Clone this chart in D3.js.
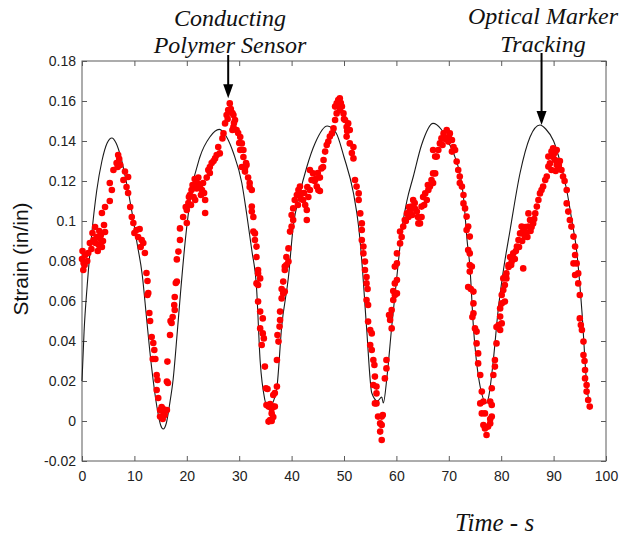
<!DOCTYPE html>
<html>
<head>
<meta charset="utf-8">
<script src="https://cdn.jsdelivr.net/npm/d3@7"></script>
<style>
  body { margin: 0; background: #fff; }
  svg { display: block; }
</style>
</head>
<body>
<svg id="chart" width="621" height="540"></svg>
<script>
// Axis ticks
const xTicks = [0, 10, 20, 30, 40, 50, 60, 70, 80, 90, 100];
const yTicks = [-0.02, 0, 0.02, 0.04, 0.06, 0.08, 0.1, 0.12, 0.14, 0.16, 0.18];
const yTickLabels = ["-0.02", "0", "0.02", "0.04", "0.06", "0.08", "0.1", "0.12", "0.14", "0.16", "0.18"];

// Optical marker tracking trace: [time (s), strain]
const opticalTrace = [
  [0, 0.02], [0.4, 0.045], [1.0, 0.068], [1.8, 0.092], [2.8, 0.115], [3.8, 0.13], [4.8, 0.139],
  [5.7, 0.1415], [6.5, 0.139], [7.5, 0.131], [8.5, 0.119], [9.5, 0.105], [10.5, 0.089],
  [11.5, 0.073], [12.3, 0.052], [12.9, 0.036], [13.6, 0.02], [14.3, 0.007], [15.0, -0.002],
  [15.5, -0.004], [16.1, -0.001], [16.7, 0.008], [17.4, 0.021], [18.2, 0.045], [18.8, 0.064],
  [19.7, 0.09], [20.9, 0.115], [22.5, 0.132], [24.4, 0.142], [26.2, 0.1458], [27.6, 0.142],
  [28.9, 0.134], [30.5, 0.119], [31.4, 0.104], [32.4, 0.0855], [33.3, 0.067], [34.0, 0.03],
  [34.9, 0.0105], [35.5, 0.006], [36.2, 0.008], [37.2, 0.017], [38.1, 0.047], [39.4, 0.072],
  [40.3, 0.097], [41.5, 0.113], [42.9, 0.127], [44.5, 0.139], [46.8, 0.1475], [48.5, 0.144],
  [50.0, 0.132], [51.8, 0.114], [52.8, 0.097], [53.4, 0.08], [54.3, 0.047], [55.3, 0.014],
  [56.4, 0.01], [57.2, 0.012], [57.5, 0.009], [58.2, 0.022], [59.1, 0.047], [60.4, 0.08],
  [61.0, 0.095], [62.0, 0.11], [63.2, 0.122], [64.8, 0.138], [67.0, 0.1488], [68.5, 0.146],
  [70.0, 0.139], [70.9, 0.134], [72.8, 0.112], [73.5, 0.09], [74.0, 0.078], [74.7, 0.047],
  [76.0, 0.017], [77.2, 0.009], [77.6, 0.012], [78.5, 0.0305], [79.4, 0.055], [80.4, 0.075],
  [81.7, 0.0955], [83.6, 0.124], [85.5, 0.142], [87.4, 0.148], [88.5, 0.146], [90.0, 0.14],
  [91.2, 0.13], [92.5, 0.1155], [93.5, 0.1], [94.4, 0.085], [95.4, 0.055], [96.3, 0.019],
  [96.6, 0.012]
];

// Conducting polymer sensor readings: [time (s), strain]
const sensorPoints = [
  // cycle 1
  [0, 0.081], [0.25, 0.0755], [0.5, 0.078], [0.1, 0.085], [0.6, 0.083], [1.2, 0.084], [1.5, 0.089],
  [2.2, 0.0905], [2.5, 0.097], [2.8, 0.092], [3.2, 0.088], [3.0, 0.085], [3.8, 0.087], [4.4, 0.0945],
  [3.6, 0.093], [4.0, 0.09], [3.8, 0.104], [4.4, 0.107], [5.3, 0.11], [5.7, 0.1155], [5.3, 0.119],
  [2.0, 0.094], [2.6, 0.089], [3.3, 0.095], [3.5, 0.091], [4.2, 0.098], [1.8, 0.086], [1.0, 0.08],
  [0.3, 0.079],
  [6.0, 0.1255], [6.6, 0.129], [6.9, 0.133], [7.1, 0.131], [6.8, 0.127], [7.3, 0.128],
  [8.2, 0.1247], [8.8, 0.122], [7.9, 0.1205], [8.5, 0.117], [8.8, 0.114], [9.2, 0.107], [9.5, 0.102],
  [9.8, 0.099], [10.4, 0.0955], [10.7, 0.092], [11.4, 0.0905], [11.7, 0.089], [12.0, 0.084],
  [10.0, 0.094], [11.0, 0.096], [11.2, 0.087],
  [12.3, 0.074], [12.5, 0.07], [12.65, 0.064], [12.5, 0.063], [12.85, 0.054], [13.0, 0.05],
  [13.3, 0.042], [13.6, 0.039], [13.8, 0.0355], [13.5, 0.031], [14.0, 0.031], [14.25, 0.023],
  [14.4, 0.0205], [14.25, 0.0155], [14.55, 0.0115], [14.9, 0.0055], [15.2, 0.007], [15.5, 0.006],
  [14.9, 0.0022], [15.8, 0.003], [16.2, 0.0055], [15.4, 0.001], [15.6, 0.004],
  [16.2, 0.0197], [16.4, 0.019], [16.3, 0.0297], [16.8, 0.043], [17.1, 0.049], [16.9, 0.05],
  [17.3, 0.052], [17.7, 0.0555], [17.6, 0.058], [17.7, 0.062], [17.9, 0.069], [18.1, 0.0697],
  // cycle 2
  [18.1, 0.0808], [18.4, 0.0847], [18.7, 0.0905], [18.7, 0.0963], [19.3, 0.102], [20.0, 0.1055],
  [19.8, 0.107], [20.3, 0.109], [20.0, 0.099], [20.6, 0.113], [20.9, 0.1155], [21.3, 0.112],
  [21.6, 0.1105], [21.9, 0.1163], [22.5, 0.117], [22.7, 0.113], [22.2, 0.1217], [23.1, 0.119],
  [23.5, 0.104], [23.5, 0.1105], [23.8, 0.1217], [24.1, 0.1255], [24.4, 0.127], [24.75, 0.129],
  [20.4, 0.112], [21.1, 0.118], [21.5, 0.121], [22.0, 0.119], [22.9, 0.1155], [23.3, 0.114],
  [20.8, 0.108], [24.4, 0.124],
  [25.1, 0.13], [25.4, 0.1313], [25.7, 0.133], [26.3, 0.1338], [26.0, 0.137], [26.8, 0.1413],
  [27.0, 0.1438], [27.3, 0.1488], [27.6, 0.153], [27.9, 0.1555], [28.2, 0.1588], [28.4, 0.156],
  [28.7, 0.154], [28.9, 0.153], [29.2, 0.1505], [28.9, 0.147], [29.5, 0.1455], [28.7, 0.1455],
  [27.8, 0.151], [28.1, 0.155], [29.0, 0.149], [29.8, 0.144], [30.0, 0.139],
  [30.2, 0.142], [30.5, 0.1388], [30.2, 0.1355], [30.8, 0.132], [30.5, 0.127], [31.1, 0.1263],
  [31.3, 0.129], [31.7, 0.1217], [32.0, 0.119], [32.4, 0.1155], [32.4, 0.1072], [32.7, 0.102],
  [32.7, 0.0947], [33.0, 0.0905], [33.3, 0.0872], [33.3, 0.082], [33.6, 0.0738], [33.3, 0.0688],
  [34.0, 0.0713], [30.8, 0.1355], [31.4, 0.128], [31.1, 0.1247], [32.0, 0.117], [32.4, 0.1047],
  [33.0, 0.0938], [33.6, 0.0755],
  [33.6, 0.068], [33.6, 0.0597], [34.0, 0.0547], [34.5, 0.0513], [34.0, 0.0463], [34.5, 0.0438],
  [34.7, 0.0413], [34.3, 0.038], [34.9, 0.0272], [35.1, 0.0164], [35.4, 0.016], [35.2, 0.008],
  [35.6, 0.0072], [35.9, 0.0085], [36.2, 0.0063], [36.5, 0.0072], [36.8, 0.0072], [36.2, 0.0038],
  [35.9, 0.0005], [36.5, 0.002], [35.6, -0.0003], [36.2, 0.0],
  [36.5, 0.013], [36.8, 0.014], [37.2, 0.0172], [37.2, 0.0305], [37.5, 0.0397], [37.3, 0.043],
  [37.7, 0.0472], [37.8, 0.0505], [37.8, 0.0547], [38.1, 0.0613], [38.4, 0.0638], [38.7, 0.0647],
  [38.1, 0.066], [38.4, 0.0697], [38.7, 0.0755], [39.0, 0.078], [39.4, 0.0797], [38.7, 0.0772],
  // cycle 3
  [39.0, 0.082], [39.4, 0.0863], [39.7, 0.0947], [40.0, 0.0972], [40.3, 0.1005], [40.0, 0.103],
  [40.3, 0.1063], [40.6, 0.1105], [41.0, 0.113], [41.3, 0.1155], [41.6, 0.1172], [41.9, 0.1138],
  [42.2, 0.1105], [42.6, 0.108], [42.9, 0.1055], [42.9, 0.1005], [43.2, 0.112], [43.5, 0.1155],
  [43.8, 0.1205], [43.5, 0.1255], [44.1, 0.1238], [44.4, 0.12], [44.8, 0.1172], [45.1, 0.1155],
  [45.4, 0.1217], [45.7, 0.1263], [45.4, 0.115], [46.1, 0.1305], [46.4, 0.1347], [46.7, 0.138],
  [41.2, 0.108], [41.8, 0.111], [42.4, 0.114], [44.6, 0.121], [45.0, 0.124], [43.0, 0.117],
  [46.0, 0.127],
  [47.0, 0.1397], [47.3, 0.1422], [47.7, 0.1438], [48.0, 0.1463], [48.3, 0.1505], [48.6, 0.1538],
  [48.3, 0.1572], [48.6, 0.1588], [48.9, 0.1605], [49.2, 0.1613], [49.6, 0.1572], [49.9, 0.1538],
  [49.2, 0.1555], [50.2, 0.1505], [50.5, 0.147], [50.8, 0.1488], [51.1, 0.1455], [50.5, 0.1422],
  [48.9, 0.158], [49.4, 0.159], [50.0, 0.151], [50.6, 0.145],
  [51.1, 0.1388], [51.8, 0.137], [51.5, 0.134], [51.8, 0.1313], [52.1, 0.1205], [52.4, 0.1172],
  [52.8, 0.1138], [52.8, 0.1105], [53.1, 0.1038], [53.4, 0.0988], [53.4, 0.0955], [53.4, 0.0905],
  [53.7, 0.0872], [53.7, 0.0838], [54.0, 0.0797], [54.0, 0.0755], [54.3, 0.072],
  [54.3, 0.0688], [54.5, 0.066], [54.3, 0.0605], [54.6, 0.058], [54.6, 0.0497], [55.0, 0.0455],
  [55.3, 0.0438], [55.0, 0.038], [55.3, 0.0355], [55.6, 0.0305], [55.8, 0.028], [55.9, 0.0222],
  [55.6, 0.018], [56.2, 0.0172], [56.2, 0.0138], [55.9, 0.0088], [56.2, 0.0088], [56.5, 0.0022],
  [57.2, 0.0022], [57.4, 0.003], [56.9, -0.0012], [57.2, -0.002], [56.9, -0.0053], [57.2, -0.0095],
  [57.8, 0.0213], [58.1, 0.0263], [58.1, 0.0305], [59.1, 0.0463], [58.8, 0.0505], [58.8, 0.053],
  [58.6, 0.053], [59.1, 0.0555], [59.4, 0.0605], [59.7, 0.063], [59.4, 0.065], [60.1, 0.0638],
  [59.7, 0.0688], [60.1, 0.0705], [59.7, 0.0772], [60.1, 0.0788],
  // cycle 4
  [60.1, 0.0838], [60.7, 0.0888], [61.0, 0.092], [60.7, 0.0947], [61.3, 0.0972], [61.6, 0.1005],
  [62.0, 0.1038], [62.3, 0.102], [62.6, 0.1055], [62.9, 0.1072], [63.2, 0.1105], [63.5, 0.109],
  [63.9, 0.1047], [64.5, 0.0988], [64.2, 0.0988], [64.8, 0.102], [64.8, 0.1072], [65.1, 0.112],
  [61.8, 0.1], [62.4, 0.107], [63.0, 0.103], [63.6, 0.106], [64.1, 0.102], [65.3, 0.108],
  [66.0, 0.118],
  [65.5, 0.1138], [65.8, 0.1105], [66.1, 0.1155], [66.4, 0.1172], [66.7, 0.1205], [67.0, 0.119],
  [67.0, 0.1238], [67.4, 0.1238], [67.4, 0.1322], [67.7, 0.1322], [67.0, 0.1355], [68.0, 0.1355],
  [68.3, 0.1388], [68.6, 0.1413], [69.0, 0.1438], [69.6, 0.1455], [70.2, 0.1438], [70.6, 0.1405],
  [68.8, 0.138], [69.3, 0.141], [70.0, 0.142],
  [69.9, 0.1397], [70.9, 0.137], [71.2, 0.1355], [70.6, 0.1347], [71.5, 0.1297], [71.8, 0.1255],
  [72.1, 0.1222], [72.1, 0.119], [72.5, 0.1172], [72.8, 0.113], [72.8, 0.1088], [73.1, 0.1063],
  [73.4, 0.1022], [73.7, 0.0972], [73.4, 0.0955], [74.0, 0.0922], [73.7, 0.0855], [74.0, 0.0838],
  [74.4, 0.0772], [74.0, 0.0747],
  [74.0, 0.078], [73.7, 0.067], [74.2, 0.066], [74.7, 0.0647], [74.7, 0.0588], [74.7, 0.0538],
  [74.5, 0.052], [75.0, 0.0463], [75.3, 0.0447], [75.3, 0.0388], [75.6, 0.0338], [75.6, 0.0288],
  [76.0, 0.023], [76.3, 0.0147], [76.0, 0.0088], [76.6, 0.0097], [76.3, 0.0038], [76.9, 0.0038],
  [76.6, -0.002], [76.9, -0.0037], [77.2, -0.007], [77.5, -0.0028], [77.9, -0.0012], [78.2, 0.0022],
  [77.9, 0.001], [78.2, 0.008], [77.9, 0.0097], [78.2, 0.0164], [78.5, 0.023], [78.8, 0.0272],
  [78.8, 0.0305], [79.1, 0.0388], [79.8, 0.0455], [79.5, 0.048], [79.1, 0.047], [80.1, 0.0488],
  [79.8, 0.0522], [79.8, 0.0563], [80.1, 0.0588], [80.7, 0.0597], [80.1, 0.063], [80.4, 0.0655],
  [80.7, 0.068], [81.0, 0.0713], [80.4, 0.0713], [81.0, 0.0738], [81.4, 0.078], [82.0, 0.0797],
  [82.6, 0.081], [84.2, 0.0763],
  // cycle 5
  [80.7, 0.072], [81.4, 0.077], [81.7, 0.082], [82.3, 0.0838], [81.9, 0.078], [83.0, 0.0872],
  [83.3, 0.0905], [83.6, 0.0938], [83.9, 0.0972], [84.2, 0.095], [84.5, 0.0922], [84.8, 0.094],
  [85.2, 0.0972], [85.5, 0.1005], [85.8, 0.097], [86.1, 0.0988], [86.5, 0.1038], [86.8, 0.1072],
  [82.8, 0.085], [83.4, 0.087], [84.0, 0.09], [84.6, 0.097], [85.0, 0.092], [85.6, 0.095],
  [86.3, 0.101],
  [85.2, 0.1038], [87.1, 0.1105], [87.4, 0.1138], [87.7, 0.1155], [88.0, 0.1172], [88.4, 0.1205],
  [88.7, 0.1222], [89.0, 0.1272], [89.3, 0.1288], [89.0, 0.1322], [89.6, 0.1347], [89.9, 0.1363],
  [90.6, 0.1355], [90.3, 0.1305], [90.6, 0.128], [89.6, 0.1255], [90.9, 0.1263], [91.2, 0.13],
  [89.9, 0.132], [90.2, 0.134], [91.0, 0.128], [90.4, 0.125],
  [91.5, 0.1255], [91.8, 0.1222], [92.1, 0.12], [92.5, 0.1155], [92.5, 0.1088], [92.8, 0.1047],
  [93.1, 0.1005], [93.4, 0.0972], [93.8, 0.0922], [94.1, 0.0872], [94.1, 0.083], [94.4, 0.0788],
  [94.7, 0.0738],
  [93.8, 0.0788], [94.1, 0.073], [94.7, 0.0688], [95.0, 0.063], [95.0, 0.0513], [95.2, 0.048],
  [95.4, 0.0455], [95.7, 0.0397], [95.7, 0.033], [95.9, 0.03], [96.0, 0.0255], [96.0, 0.0213],
  [96.3, 0.018], [96.3, 0.0147], [96.6, 0.0105], [96.9, 0.0072]
];

// Callouts: label lines and the data point each arrow points at
const callouts = [
  { lines: ["Conducting", "Polymer Sensor"], cx: 230, baselines: [26, 53], tip: [27.9, 0.1614], from: 55 },
  { lines: ["Optical Marker", "Tracking"], cx: 543, baselines: [24, 52], tip: [87.7, 0.148], from: 53 }
];

const svg = d3.select("#chart");
const W = 621, H = 540;
const margin = { left: 82, right: W - 606, top: 61, bottom: H - 461 };

svg.append("rect").attr("width", W).attr("height", H).attr("fill", "#fff");

const x = d3.scaleLinear().domain([0, 100]).range([margin.left, W - margin.right]);
const y = d3.scaleLinear().domain([-0.02, 0.18]).range([H - margin.bottom, margin.top]);

const axisColor = "#5a5a5a";
const tickFont = "'Liberation Sans', Arial, Helvetica, sans-serif";

function styleAxis(g) {
  g.select(".domain").remove();
  g.selectAll(".tick line").attr("stroke", axisColor).attr("stroke-width", 1);
  g.selectAll(".tick text").attr("fill", "#222").style("font-family", tickFont).style("font-size", "14px");
}

// bottom axis with labels
svg.append("g")
  .attr("transform", `translate(0,${y(-0.02)})`)
  .call(d3.axisBottom(x).tickValues(xTicks).tickSizeInner(-5).tickSizeOuter(0).tickPadding(10).tickFormat(d3.format("d")))
  .call(styleAxis);

// top axis, ticks only
svg.append("g")
  .attr("transform", `translate(0,${y(0.18)})`)
  .call(d3.axisTop(x).tickValues(xTicks).tickSizeInner(-5).tickSizeOuter(0).tickFormat(""))
  .call(styleAxis);

// left axis with labels
svg.append("g")
  .attr("transform", `translate(${x(0)},0)`)
  .call(d3.axisLeft(y).tickValues(yTicks).tickSizeInner(-5).tickSizeOuter(0).tickPadding(6)
    .tickFormat((d, i) => yTickLabels[i]))
  .call(styleAxis);

// right axis, ticks only
svg.append("g")
  .attr("transform", `translate(${x(100)},0)`)
  .call(d3.axisRight(y).tickValues(yTicks).tickSizeInner(-5).tickSizeOuter(0).tickFormat(""))
  .call(styleAxis);

// frame
svg.append("rect")
  .attr("x", x(0)).attr("y", y(0.18))
  .attr("width", x(100) - x(0)).attr("height", y(-0.02) - y(0.18))
  .attr("fill", "none").attr("stroke", axisColor).attr("stroke-width", 1);

// optical trace
const line = d3.line().x(d => x(d[0])).y(d => y(d[1])).curve(d3.curveMonotoneX);
svg.append("path")
  .datum(opticalTrace)
  .attr("d", line)
  .attr("fill", "none")
  .attr("stroke", "#1a1a1a")
  .attr("stroke-width", 1.1);

// sensor readings
svg.append("g")
  .selectAll("circle")
  .data(sensorPoints)
  .join("circle")
  .attr("cx", d => x(d[0]))
  .attr("cy", d => y(d[1]))
  .attr("r", 3.3)
  .attr("fill", "#ff0000");

// axis titles
svg.append("text")
  .attr("transform", `translate(27.5,259) rotate(-90)`)
  .attr("text-anchor", "middle")
  .style("font-family", tickFont)
  .style("font-size", "21px")
  .attr("fill", "#111")
  .text("Strain (in/in)");

svg.append("text")
  .attr("x", 455).attr("y", 530.5)
  .style("font-family", "'Liberation Serif', 'Times New Roman', serif")
  .style("font-style", "italic")
  .style("font-size", "25px")
  .attr("fill", "#111")
  .text("Time - s");

// callouts with arrows
const serif = "'Liberation Serif', 'Times New Roman', serif";
callouts.forEach(c => {
  c.lines.forEach((t, i) => {
    svg.append("text")
      .attr("x", c.cx).attr("y", c.baselines[i])
      .attr("text-anchor", "middle")
      .style("font-family", serif)
      .style("font-style", "italic")
      .style("font-size", "24px")
      .attr("fill", "#111")
      .text(t);
  });
  const tx = x(c.tip[0]), ty = y(c.tip[1]);
  const headH = 14, headW = 10;
  svg.append("line")
    .attr("x1", tx).attr("x2", tx)
    .attr("y1", c.from).attr("y2", ty - headH + 1)
    .attr("stroke", "#000").attr("stroke-width", 2);
  svg.append("path")
    .attr("d", `M${tx - headW / 2},${ty - headH} L${tx + headW / 2},${ty - headH} L${tx},${ty} Z`)
    .attr("fill", "#000");
});
</script>
</body>
</html>
